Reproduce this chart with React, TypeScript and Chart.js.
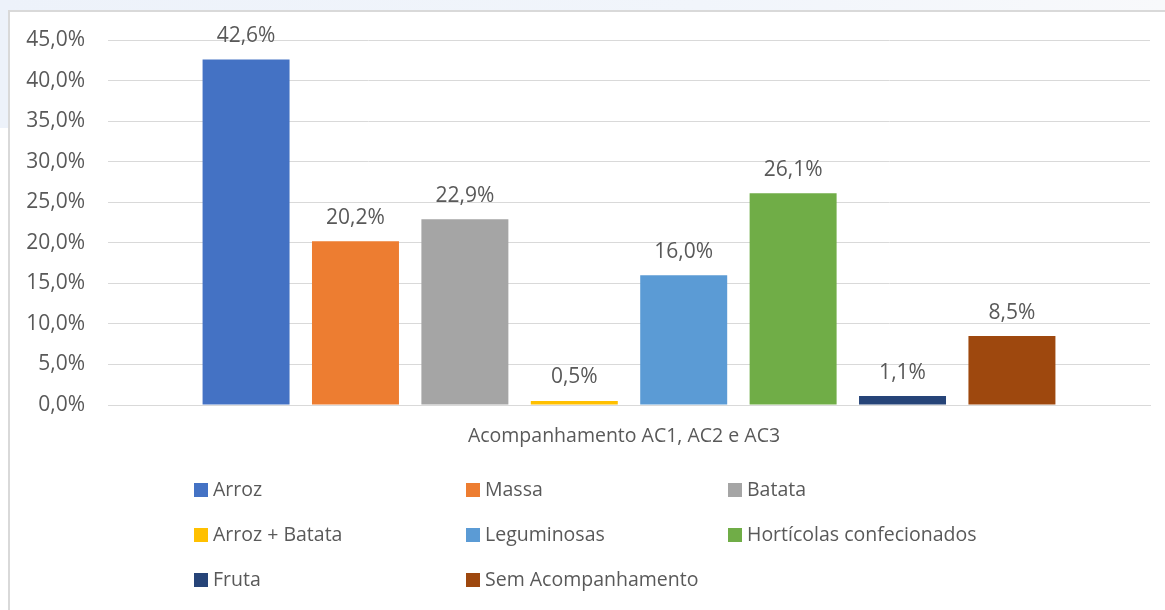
import React, { useEffect, useRef } from "react";
import { Chart, registerables } from "chart.js";

Chart.register(...registerables);

const categories = ["Acompanhamento AC1, AC2 e AC3"];
const seriesNames = [
  "Arroz",
  "Massa",
  "Batata",
  "Arroz + Batata",
  "Leguminosas",
  "Hortícolas confecionados",
  "Fruta",
  "Sem Acompanhamento",
];
const seriesValues = [42.6, 20.2, 22.9, 0.5, 16.0, 26.1, 1.1, 8.5];
const seriesColors = [
  "#4472C4",
  "#ED7D31",
  "#A5A5A5",
  "#FFC000",
  "#5B9BD5",
  "#70AD47",
  "#264478",
  "#9E480E",
];
const yMin = 0;
const yMax = 45;
const yStep = 5;

const FONT = "'Open Sans', 'DejaVu Sans', sans-serif";
const TEXT = "#595959";
const GRID = "#d9d9d9";

const fmt = (v: number) => v.toFixed(1).replace(".", ",") + "%";

// legend grid layout (canvas coords)
const LEGEND_COLS = [184, 456, 718];
const LEGEND_ROWS = [478, 523, 568];

export default function App() {
  const ref = useRef<HTMLCanvasElement>(null);

  useEffect(() => {
    if (!ref.current) return;

    const valueLabels = {
      id: "valueLabels",
      afterDatasetsDraw(chart: any) {
        const ctx = chart.ctx;
        ctx.save();
        ctx.font = `21px ${FONT}`;
        ctx.fillStyle = TEXT;
        ctx.textAlign = "center";
        ctx.textBaseline = "middle";
        chart.data.datasets.forEach((ds: any, i: number) => {
          const meta = chart.getDatasetMeta(i);
          meta.data.forEach((bar: any, j: number) => {
            ctx.fillText(fmt(ds.data[j]), bar.x, bar.y - 23.5);
          });
        });
        ctx.restore();
      },
    };

    const gridLegend = {
      id: "gridLegend",
      afterDraw(chart: any) {
        const ctx = chart.ctx;
        ctx.save();
        ctx.font = `19.5px ${FONT}`;
        ctx.textAlign = "left";
        ctx.textBaseline = "middle";
        chart.data.datasets.forEach((ds: any, i: number) => {
          const col = i % 3;
          const row = Math.floor(i / 3);
          const x = LEGEND_COLS[col];
          const y = LEGEND_ROWS[row];
          ctx.fillStyle = ds.backgroundColor;
          ctx.fillRect(x, y - 7, 14, 14);
          ctx.fillStyle = TEXT;
          ctx.fillText(ds.label, x + 19, y);
        });
        ctx.restore();
      },
    };

    const chart = new Chart(ref.current, {
      type: "bar",
      data: {
        labels: categories,
        datasets: seriesNames.map((name, i) => ({
          label: name,
          data: [seriesValues[i]],
          backgroundColor: seriesColors[i],
          borderWidth: 0,
          categoryPercentage: 0.84,
          barPercentage: 0.795,
        })),
      },
      options: {
        animation: false,
        responsive: false,
        layout: { padding: { left: 0, right: 15, top: 28, bottom: 155 } },
        plugins: {
          legend: { display: false },
          tooltip: { enabled: false },
        },
        scales: {
          x: {
            grid: { display: false, drawTicks: false },
            border: { color: GRID, width: 1 },
            ticks: {
              color: TEXT,
              font: { family: FONT, size: 19.5 },
              padding: 20,
              labelOffset: -5,
            },
            afterFit(s: any) {
              s.height = 50;
            },
          },
          y: {
            min: yMin,
            max: yMax,
            ticks: {
              stepSize: yStep,
              color: TEXT,
              font: { family: FONT, size: 21 },
              padding: 0,
              callback: (v: any) => fmt(Number(v)),
            },
            grid: {
              color: GRID,
              drawTicks: true,
              tickLength: 23,
              tickColor: "rgba(0,0,0,0)",
              lineWidth: 1,
            },
            border: { display: false },
            afterFit(s: any) {
              s.width = 98;
            },
          },
        },
      },
      plugins: [valueLabels, gridLegend],
    } as any);

    return () => chart.destroy();
  }, []);

  return (
    <div
      style={{
        position: "fixed",
        left: 0,
        top: 0,
        width: 1165,
        height: 610,
        overflow: "hidden",
        background: "#ffffff",
      }}
    >
      <div
        style={{
          position: "absolute",
          left: 0,
          top: 0,
          width: 1165,
          height: 10,
          background: "linear-gradient(to right, #edf2fa, #f1f5fb 60%, #f8f9fb)",
        }}
      />
      <div
        style={{
          position: "absolute",
          left: 0,
          top: 0,
          width: 8,
          height: 128,
          background: "#edf2fa",
        }}
      />
      <div
        style={{
          position: "absolute",
          left: 8,
          top: 10,
          width: 1157,
          height: 600,
          borderLeft: `2px solid ${GRID}`,
          borderTop: `2px solid ${GRID}`,
          background: "#ffffff",
        }}
      >
        <canvas
          ref={ref}
          width={1155}
          height={598}
          style={{ display: "block", width: 1155, height: 598 }}
        />
      </div>
    </div>
  );
}
